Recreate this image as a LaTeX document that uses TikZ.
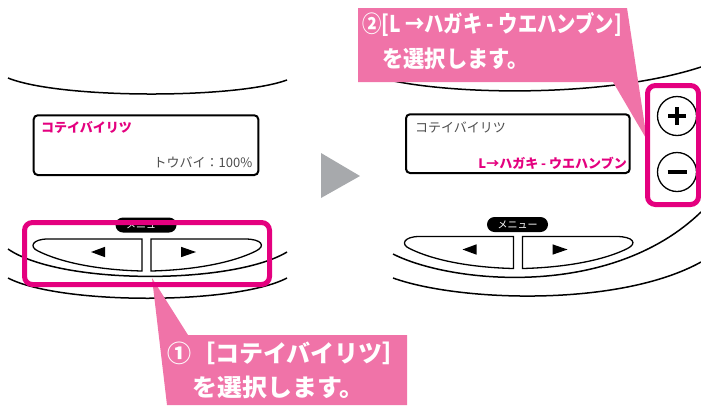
\documentclass[tikz,border=0pt]{standalone}
\usepackage{fontspec}
\setmainfont{Noto Sans CJK JP}
\newfontfamily\jp{Noto Sans CJK JP}
\newfontfamily\jpc{Noto Sans CJK JP}[FakeStretch=0.86]
\definecolor{mag}{HTML}{E4007F}
\definecolor{pinkc}{HTML}{F073A8}
\definecolor{grayarrow}{HTML}{A7A9AC}
\definecolor{txtgray}{HTML}{4D4D4D}
\tikzset{
  rim/.style={line width=1.5pt},
  dispbox/.style={draw, line width=2pt, rounded corners=4pt, fill=white},
  btn/.style={draw, line width=1.3pt, fill=white},
  pillbox/.style={fill=black, text=white, rounded corners=7.5pt, minimum width=61pt, minimum height=15pt, inner sep=0pt, font=\jp\fontsize{10}{10}\selectfont},
  magbox/.style={draw=mag, line width=5pt, rounded corners=8pt},
  calloutfill/.style={fill=pinkc},
  calltxt/.style={text=white, inner sep=0pt, anchor=west, font=\jp\bfseries\fontsize{24}{24}\selectfont},
  calltxtc/.style={text=white, inner sep=0pt, anchor=west, font=\jpc\bfseries\fontsize{23}{23}\selectfont},
  disptxt/.style={inner sep=0pt, font=\jp\fontsize{13}{13}\selectfont},
  pmcircle/.style={circle, draw, line width=1.3pt, minimum size=39pt, inner sep=0pt, fill=white},
}
\newcommand\buttonset[1]{%
  \draw[btn] (142,239) -- (48,239) .. controls (32,239) and (29,247) .. (38,251)
     .. controls (62,263) and (100,270) .. (142,271) -- cycle;
  \draw[btn] (151,239) -- (245,239) .. controls (262,239) and (266,246) .. (256,251)
     .. controls (232,263) and (193,270) .. (151,271) -- cycle;
  \fill (91,252) -- (105,246.8) -- (105,257.2) -- cycle;
  \fill (196,252) -- (181,246.8) -- (181,257.2) -- cycle;
}
\begin{document}
\begin{tikzpicture}[x=1pt,y=-1pt]
\useasboundingbox (0,0) rectangle (701,405);

% ---------- left panel rims ----------
\draw[rim] (8,78) .. controls (60,99) and (235,99) .. (287,80);
\draw[rim] (8,249) .. controls (60,285) and (232,285) .. (287,252);
\draw[rim] (8,278) .. controls (60,305) and (235,305) .. (287,278);

% ---------- right panel rims ----------
\draw[rim] (370,75) .. controls (430,95) and (600,100) .. (701,67);
\draw[rim] (393,254) .. controls (450,283) and (610,300) .. (701,212);
\draw[rim] (393,278) .. controls (460,302) and (620,307) .. (701,262);

% ---------- displays ----------
\node[dispbox, minimum width=224.6pt, minimum height=59.7pt] (dispL) at (146,145.15) {};
\node[dispbox, minimum width=223.7pt, minimum height=58.7pt] (dispR) at (517.85,143.65) {};
\node[disptxt, anchor=west, text=mag, font=\jp\bfseries\fontsize{13}{13}\selectfont] (tL1) at (41,127) {コテイバイリツ};
\node[disptxt, anchor=east, text=txtgray] (tL2) at (252.5,162) {トウバイ：100\%};
\node[disptxt, anchor=west, text=txtgray] (tR1) at (415,127) {コテイバイリツ};
\node[disptxt, anchor=east, text=mag, font=\jp\bfseries\fontsize{13}{13}\selectfont] (tR2) at (627,163) {L→ハガキ - ウエハンブン};

% ---------- buttons ----------
\buttonset{L}
\begin{scope}[shift={(371.5,-2.5)}]
\buttonset{R}
\end{scope}
\node[pillbox] (pillL) at (146,225) {メニュー};
\node[pillbox] (pillR) at (517.5,224.5) {メニュー};

% ---------- plus / minus ----------
\node[pmcircle] (plus) at (677,116) {};
\node[pmcircle] (minus) at (677,172) {};
\draw[line width=4pt] ([xshift=-9pt]plus.center) -- ([xshift=9pt]plus.center);
\draw[line width=4pt] ([yshift=-9pt]plus.center) -- ([yshift=9pt]plus.center);
\draw[line width=4.5pt] ([xshift=-9.5pt]minus.center) -- ([xshift=9.5pt]minus.center);

% ---------- middle arrow ----------
\fill[grayarrow] (321,153) -- (321,198) -- (360,176) -- cycle;

% ---------- callouts ----------
\fill[calloutfill] (152,278) -- (188,335) -- (407,335) -- (407,405) -- (167,405) -- cycle;
\node[calltxt] (c1a) at (167,353) {①［コテイバイリツ］};
\node[calltxt] (c1b) at (192,387.5) {\scalebox{1.04}[1]{を選択します。}};

\fill[calloutfill] (358,8) -- (627,8) -- (647,140) -- (613,82) -- (358,82) -- cycle;
\node[calltxtc] (c2a) at (362,24) {\scalebox{0.977}[1]{②[L →ハガキ - ウエハンブン]}};
\node[calltxtc] (c2b) at (382,59) {\scalebox{1.076}[1]{を選択します。}};

% ---------- highlight frames ----------
\draw[magbox] (24.5,222.5) rectangle (269.5,284.5);
\draw[magbox] (647.5,85.5) rectangle (698.5,204.5);
\end{tikzpicture}
\end{document}
